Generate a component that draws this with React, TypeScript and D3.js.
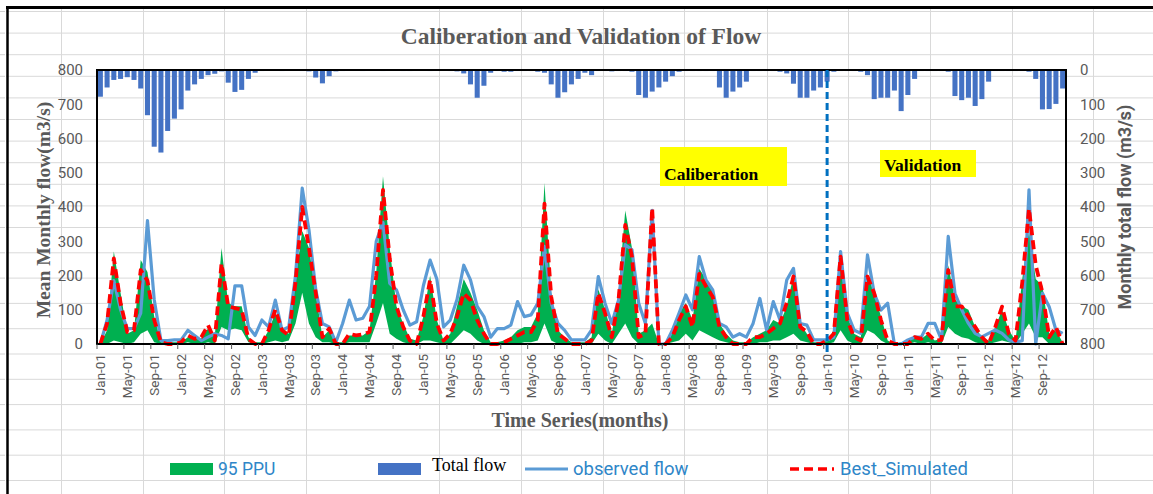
import React from 'react';
import * as d3 from 'd3';

const W = 1153;
const H = 494;

// 144 monthly categories Jan-2001 .. Dec-2012
const months = d3.timeMonths(new Date(2001, 0, 1), new Date(2013, 0, 1));
const fmt = d3.timeFormat('%b-%y');
const tickLabels = [
  'Jan-01', 'May-01', 'Sep-01', 'Jan-02', 'May-02', 'Sep-02', 'Jan-03', 'May-03', 'Sep-03',
  'Jan-04', 'May-04', 'Sep-04', 'Jan-05', 'May-05', 'Sep-05', 'Jan-06', 'May-06', 'Sep-06',
  'Jan-07', 'May-07', 'Sep-07', 'Jan-08', 'May-08', 'Sep-08', 'Jan-09', 'May-09', 'Sep-09',
  'Jan-10', 'May-10', 'Sep-10', 'Jan-11', 'May-11', 'Sep-11', 'Jan-12', 'May-12', 'Sep-12',
];
const leftTicks = [0, 100, 200, 300, 400, 500, 600, 700, 800];
const rightTicks = [0, 100, 200, 300, 400, 500, 600, 700, 800];

const observed = [
  0, 70, 185, 100, 45, 45, 90, 360, 130, 10, 10, 12, 12, 40, 25, 10, 20, 30, 25, 15,
  170, 170, 50, 25, 70, 50, 128, 40, 50, 200, 455, 333, 160, 60, 50, 5, 60, 128, 70, 75,
  110, 300, 355, 177, 158, 100, 55, 65, 170, 245, 190, 50, 70, 130, 230, 187, 110, 80, 20, 45,
  45, 55, 124, 80, 85, 119, 285, 120, 60, 40, 12, 12, 12, 41, 197, 119, 60, 128, 290, 275,
  119, 60, 390, 0, 0, 40, 90, 143, 100, 255, 187, 158, 60, 50, 20, 30, 20, 60, 133, 41,
  124, 70, 187, 221, 60, 55, 12, 12, 12, 20, 270, 90, 41, 31, 260, 148, 99, 119, 0, 0,
  12, 20, 20, 60, 60, 12, 314, 148, 100, 60, 31, 21, 31, 41, 31, 12, 5, 10, 450, 0,
  148, 109, 41, 31,
];

const bestSim = [
  0, 60, 250, 120, 35, 40, 216, 185, 70, 5, 0, 0, 5, 25, 15, 20, 55, 10, 235, 110,
  105, 100, 15, 0, 0, 40, 100, 40, 25, 180, 400, 280, 150, 20, 45, 0, 0, 30, 25, 28,
  35, 200, 450, 250, 110, 50, 10, 0, 80, 187, 60, 10, 30, 80, 148, 128, 70, 30, 0, 0,
  5, 15, 25, 35, 35, 70, 410, 138, 30, 15, 0, 0, 0, 10, 148, 90, 20, 128, 348, 255,
  20, 30, 397, 0, 0, 20, 70, 110, 50, 205, 168, 138, 50, 20, 0, 0, 0, 20, 20, 30,
  45, 60, 120, 197, 50, 35, 0, 0, 10, 30, 255, 70, 20, 10, 197, 148, 70, 10, 0, 0,
  0, 20, 15, 30, 10, 12, 216, 110, 110, 80, 50, 20, 0, 50, 109, 30, 10, 180, 395, 230,
  150, 20, 50, 0,
];

const ppuUpper = [
  0, 40, 270, 150, 30, 40, 245, 210, 80, 5, 5, 5, 5, 20, 15, 15, 45, 20, 280, 120,
  110, 110, 20, 5, 5, 40, 90, 40, 30, 190, 330, 280, 150, 20, 40, 5, 5, 25, 25, 25,
  40, 210, 490, 280, 110, 60, 15, 10, 80, 200, 70, 10, 30, 110, 190, 150, 100, 40, 5, 5,
  10, 20, 40, 50, 50, 90, 470, 150, 40, 20, 5, 5, 5, 20, 160, 100, 30, 150, 390, 280,
  30, 40, 60, 0, 5, 40, 90, 120, 70, 220, 190, 160, 60, 30, 10, 5, 5, 20, 30, 40,
  70, 60, 110, 200, 60, 30, 5, 5, 10, 40, 260, 80, 30, 20, 200, 150, 80, 10, 0, 5,
  5, 25, 15, 30, 10, 15, 230, 130, 110, 100, 50, 20, 10, 50, 100, 40, 10, 190, 330, 190,
  170, 30, 40, 5,
];

const ppuLower = [
  0, 0, 10, 5, 0, 5, 30, 40, 5, 0, 0, 0, 0, 5, 0, 0, 5, 0, 50, 40,
  45, 40, 5, 0, 0, 5, 10, 5, 10, 60, 150, 60, 20, 5, 5, 0, 0, 5, 5, 5,
  5, 60, 120, 30, 15, 5, 0, 0, 10, 10, 5, 0, 0, 20, 40, 30, 10, 0, 0, 0,
  0, 0, 0, 5, 5, 10, 60, 10, 0, 0, 0, 0, 0, 0, 30, 10, 0, 30, 60, 20,
  0, 0, 0, 0, 0, 5, 10, 30, 10, 40, 30, 20, 10, 5, 0, 0, 0, 0, 5, 5,
  10, 10, 20, 30, 10, 5, 0, 0, 0, 5, 40, 10, 0, 0, 40, 30, 10, 0, 0, 0,
  0, 5, 0, 5, 0, 0, 50, 30, 20, 15, 5, 0, 0, 5, 10, 5, 0, 30, 60, 20,
  20, 0, 0, 0,
];

const totalFlow = [
  78, 51, 29, 26, 21, 29, 54, 132, 224, 241, 178, 142, 115, 60, 42, 26, 15, 11, 4, 37,
  64, 58, 26, 8, 3, 2, 2, 3, 2, 2, 3, 4, 22, 39, 18, 4, 3, 2, 2, 3,
  2, 2, 3, 2, 2, 3, 3, 2, 2, 3, 2, 2, 3, 4, 10, 42, 81, 46, 8, 3,
  5, 5, 3, 3, 3, 5, 8, 42, 81, 65, 42, 26, 8, 15, 3, 3, 4, 3, 3, 5,
  73, 81, 63, 51, 34, 18, 5, 3, 3, 3, 3, 3, 51, 81, 63, 51, 34, 3, 3, 3,
  3, 5, 10, 40, 81, 81, 60, 51, 34, 5, 3, 3, 3, 5, 15, 85, 81, 81, 60, 120,
  73, 26, 3, 3, 3, 3, 5, 76, 88, 81, 105, 85, 34, 3, 3, 3, 3, 3, 5, 26,
  115, 114, 99, 54,
];

// spreadsheet background grid (layout decoration)
const sheetCols = [61, 143, 224, 306, 439, 521, 603, 684, 767, 848, 930, 1012, 1093];
const sheetRows = [11, 32.6, 54.2, 75.8, 97.4, 119, 140.6, 162.2, 183.8, 205.4, 227, 252.3, 277.6,
  302.9, 328.2, 353.5, 378.8, 404.1, 429.4, 454.7, 480];

const PL = 97, PR = 1066, PT = 70, PB = 344;
const GRAY = '#595959';
const SANS = 'Roboto, "Noto Sans", sans-serif';
const SERIF = '"Liberation Serif", "DejaVu Serif", serif';
const LEG = '#2E86C8';

export default function App() {
  const idx = d3.range(months.length);
  const xBand = d3.scaleBand<number>().domain(idx).range([PL, PR]).paddingInner(0.25).paddingOuter(0.125);
  const xPt = d3.scalePoint<number>().domain(idx).range([PL, PR]).padding(0.5);
  const yL = d3.scaleLinear().domain([0, 800]).range([PB, PT]);
  const yR = d3.scaleLinear().domain([0, 800]).range([PT, PB]);

  const area = d3.area<number>()
    .x((i) => xPt(i) as number)
    .y0((i) => yL(ppuLower[i]))
    .y1((i) => yL(ppuUpper[i]));
  const line = (vals: number[]) => d3.line<number>().x((i) => xPt(i) as number).y((i) => yL(vals[i]))(idx) as string;

  const labelIdx = idx.filter((i) => tickLabels.includes(fmt(months[i])));
  const jan10 = idx.find((i) => fmt(months[i]) === 'Jan-10') as number;
  const step = xPt.step();

  return (
    <svg width={W} height={H} style={{ position: 'absolute', left: 0, top: 0, background: '#fff' }}>
      {/* sheet grid */}
      <g stroke="#D9D9D9" strokeWidth={1}>
        {sheetCols.map((c) => <line key={'c' + c} x1={c + 0.5} x2={c + 0.5} y1={9} y2={H} />)}
        {sheetRows.map((r) => <line key={'r' + r} x1={0} x2={W} y1={r + 0.5} y2={r + 0.5} />)}
      </g>
      <rect x={0} y={9} width={6} height={H} fill="#fff" />
      {sheetRows.map((r) => <line key={'t' + r} x1={0} x2={5} y1={r + 0.5} y2={r + 0.5} stroke="#D0D0D0" />)}
      <line x1={7.5} x2={7.5} y1={6} y2={H} stroke="#000" strokeWidth={2.5} />
      <line x1={6} x2={W} y1={7.5} y2={7.5} stroke="#000" strokeWidth={3} />

      {/* title */}
      <text x={581} y={44} textAnchor="middle" fontFamily={SERIF} fontWeight="bold" fontSize={23.5} fill={GRAY}>
        Caliberation and Validation of Flow
      </text>

      {/* bars (secondary axis, reversed) */}
      <g fill="#4472C4">
        {idx.map((i) => (
          <rect key={'b' + i} x={xBand(i)} y={yR(0)} width={xBand.bandwidth()} height={yR(totalFlow[i]) - yR(0)} />
        ))}
      </g>

      {/* 95PPU band */}
      <path d={area(idx) as string} fill="#00B050" />
      {/* observed */}
      <path d={line(observed)} fill="none" stroke="#5B9BD5" strokeWidth={3.2} strokeLinejoin="round" />
      {/* best simulated */}
      <path d={line(bestSim)} fill="none" stroke="#FF0000" strokeWidth={3.8} strokeDasharray="9,5" strokeLinejoin="round" />

      {/* plot frame */}
      <g stroke="#000" strokeWidth={2}>
        <line x1={PL} x2={PR} y1={PT} y2={PT} />
        <line x1={PL} x2={PR} y1={PB} y2={PB} />
        <line x1={PL} x2={PL} y1={PT - 1} y2={PB + 1} />
        <line x1={PR} x2={PR} y1={PT - 1} y2={PB + 1} />
      </g>

      {/* calibration / validation divider */}
      <line x1={xPt(jan10)} x2={xPt(jan10)} y1={PT} y2={PB + 8} stroke="#0070C0" strokeWidth={3} strokeDasharray="7,4" />

      {/* annotation boxes */}
      <rect x={660} y={147} width={127} height={39} fill="#FFFF00" />
      <text x={664} y={180} fontFamily={SERIF} fontWeight="bold" fontSize={17.5} fill="#000">Caliberation</text>
      <rect x={880} y={150} width={96} height={27} fill="#FFFF00" />
      <text x={884} y={171} fontFamily={SERIF} fontWeight="bold" fontSize={17.5} fill="#000">Validation</text>

      {/* left axis */}
      <g fontFamily={SANS} fontSize={15} fill={GRAY} textAnchor="end">
        {leftTicks.map((t) => (
          <text key={'l' + t} x={83} y={yL(t)} dy="0.35em">{t}</text>
        ))}
      </g>
      {/* right axis */}
      <g fontFamily={SANS} fontSize={15} fill={GRAY} textAnchor="start">
        {rightTicks.map((t) => (
          <text key={'rr' + t} x={1080} y={yR(t)} dy="0.35em">{t}</text>
        ))}
      </g>
      {/* x tick marks & labels */}
      <g stroke="#595959" strokeWidth={1}>
        {labelIdx.map((i) => (
          <line key={'tk' + i} x1={(xPt(i) as number) - step / 2} x2={(xPt(i) as number) - step / 2} y1={PB} y2={PB + 5} />
        ))}
      </g>
      <g fontFamily={SANS} fontSize={13.5} fill={GRAY} textAnchor="end">
        {labelIdx.map((i) => (
          <text key={'xl' + i} transform={`translate(${xPt(i)},${PB + 10}) rotate(-90)`} dy="0.35em">
            {fmt(months[i])}
          </text>
        ))}
      </g>

      {/* axis titles */}
      <text transform="translate(50,210) rotate(-90)" textAnchor="middle" fontFamily={SERIF} fontWeight="bold" fontSize={19.5} fill={GRAY}>
        Mean Monthly flow(m3/s)
      </text>
      <text transform="translate(1131,207) rotate(-90)" textAnchor="middle" fontFamily={SANS} fontWeight="bold" fontSize={18} fill={GRAY}>
        Monthly total flow (m3/s)
      </text>
      <text x={580} y={427} textAnchor="middle" fontFamily={SERIF} fontWeight="bold" fontSize={20} fill={GRAY}>
        Time Series(months)
      </text>

      {/* legend */}
      <rect x={170} y={463} width={43} height={12} fill="#00B050" />
      <text x={218} y={475} fontFamily={SANS} fontSize={17.5} fill={LEG}>95 PPU</text>
      <rect x={378} y={463} width={43} height={12} fill="#4472C4" />
      <text x={432} y={471} fontFamily={SERIF} fontSize={18} fill="#000">Total flow</text>
      <line x1={525} x2={568} y1={469} y2={469} stroke="#5B9BD5" strokeWidth={3} />
      <text x={573} y={475} fontFamily={SANS} fontSize={18.5} fill={LEG}>observed flow</text>
      <line x1={790} x2={834} y1={469} y2={469} stroke="#FF0000" strokeWidth={3.5} strokeDasharray="9,5" />
      <text x={840} y={475} fontFamily={SANS} fontSize={18.5} fill={LEG}>Best_Simulated</text>
    </svg>
  );
}
